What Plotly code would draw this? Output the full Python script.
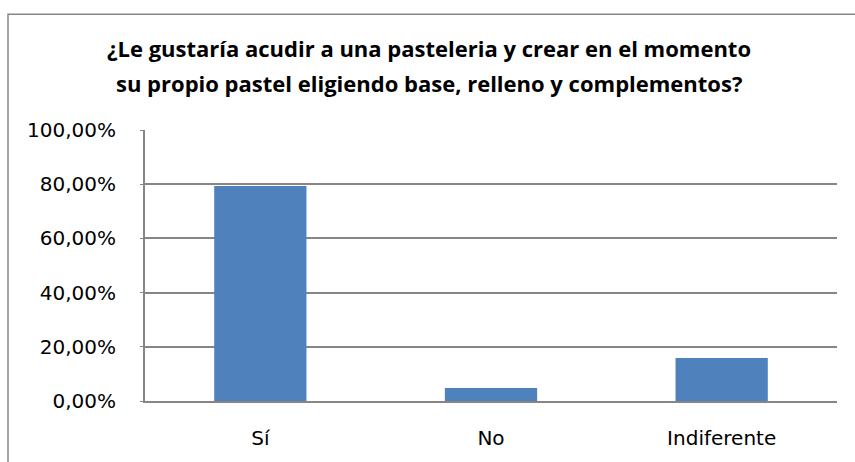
import plotly.graph_objects as go

categories = ["Sí", "No", "Indiferente"]
values = [0.7937, 0.0476, 0.1587]
tick_vals = [0, 0.2, 0.4, 0.6, 0.8, 1.0]
title_lines = [
    "¿Le gustaría acudir a una pasteleria y crear en el momento",
    "su propio pastel eligiendo base, relleno y complementos?",
]

W, H = 855, 462
ml, mr, mt, mb = 145, 18, 130, 56
pw, ph = W - ml - mr, H - mt - mb

def px_x(p):
    return (p - ml) / pw

def px_y(p):
    return (H - mb - p) / ph

FONT = "DejaVu Sans, sans-serif"

fig = go.Figure(go.Bar(x=categories, y=values, marker=dict(color="#4F81BD", line=dict(width=0))))

annotations = []
for line, ypix in zip(title_lines, [46, 82]):
    annotations.append(dict(
        text="<b>" + line + "</b>", xref="paper", yref="paper",
        x=px_x(429), y=px_y(ypix), xanchor="center", yanchor="middle",
        showarrow=False, font=dict(size=22, family="Open Sans, sans-serif", color="#000000"),
    ))

fig.update_layout(
    width=W, height=H,
    margin=dict(l=ml, r=mr, t=mt, b=mb),
    paper_bgcolor="white", plot_bgcolor="white",
    separators=",.",
    bargap=0.6,
    showlegend=False,
    font=dict(family=FONT, color="#000000"),
    annotations=annotations,
    xaxis=dict(
        showline=True, linecolor="#868686", linewidth=2,
        showgrid=False, ticks="", ticklabelstandoff=18,
        tickfont=dict(size=20, family=FONT, color="#000000"),
    ),
    yaxis=dict(
        range=[0, 1], tickvals=tick_vals, tickformat=".2%",
        showgrid=True, gridcolor="#868686", gridwidth=1.5,
        showline=True, linecolor="#868686", linewidth=2,
        ticks="outside", ticklen=3, tickcolor="#868686",
        ticklabelstandoff=20,
        tickfont=dict(size=20, family=FONT, color="#000000"),
        zeroline=False,
    ),
    shapes=[dict(
        type="rect", xref="paper", yref="paper",
        x0=px_x(8), x1=px_x(900), y0=px_y(480), y1=px_y(12),
        line=dict(color="#868686", width=1.5), fillcolor="rgba(0,0,0,0)", layer="below",
    )],
)

fig.write_html("out.html", config={"displayModeBar": False},
               post_script="document.body.style.margin='0';")
